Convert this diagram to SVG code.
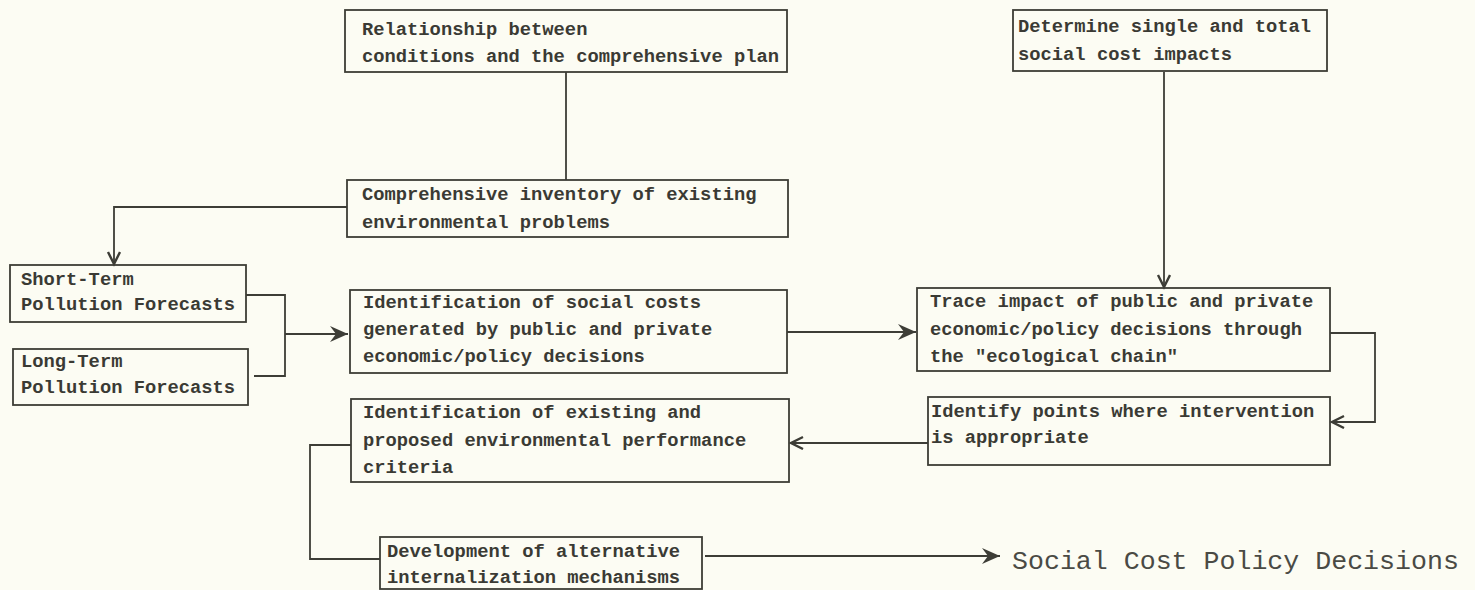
<svg xmlns="http://www.w3.org/2000/svg" width="1475" height="590" viewBox="0 0 1475 590">
<style>
  .box { fill: none; stroke: #3d3d36; stroke-width: 1.8; }
  .t { font-family: "Liberation Mono", "DejaVu Sans Mono", monospace; font-size: 18.8px; font-weight: bold; fill: #3a3a34; }
  .c { fill: none; stroke: #3d3d36; stroke-width: 1.8; }
  .big { font-family: "Liberation Mono", "DejaVu Sans Mono", monospace; font-size: 26.6px; fill: #4a4a44; }
</style>
<defs>
  <marker id="barb" markerUnits="userSpaceOnUse" markerWidth="20" markerHeight="18" refX="18" refY="8" orient="auto">
    <path d="M0,0 L18,8 L0,16 L6,8 z" fill="#3d3d36"/>
  </marker>
  <marker id="vee" markerUnits="userSpaceOnUse" markerWidth="16" markerHeight="16" refX="13" refY="7" orient="auto">
    <path d="M1,1 L13,7 L1,13" fill="none" stroke="#3d3d36" stroke-width="2.4"/>
  </marker>
</defs>
<rect x="0" y="0" width="1475" height="590" fill="#fcfcf3"/>

<g id="connectors">
  <path class="c" d="M566,72 V180"/>
  <path class="c" d="M347,207 H114 V264" marker-end="url(#vee)"/>
  <path class="c" d="M246,295 H285 V376 H254"/>
  <path class="c" d="M285,334 H348" marker-end="url(#barb)"/>
  <path class="c" d="M787,332 H916" marker-end="url(#barb)"/>
  <path class="c" d="M1164,72 V287" marker-end="url(#vee)"/>
  <path class="c" d="M1330,333 H1375 V422 H1332" marker-end="url(#vee)"/>
  <path class="c" d="M928,443 H791" marker-end="url(#vee)"/>
  <path class="c" d="M351,445 H310 V559 H380"/>
  <path class="c" d="M705,556 H1000" marker-end="url(#barb)"/>
</g>

<g id="n1">
  <rect class="box" x="345" y="10" width="442" height="62"/>
  <text class="t" x="362" y="35">Relationship between</text>
  <text class="t" x="362" y="62">conditions and the comprehensive plan</text>
</g>
<g id="n2">
  <rect class="box" x="1013" y="10" width="314" height="61"/>
  <text class="t" x="1018" y="32">Determine single and total</text>
  <text class="t" x="1018" y="60">social cost impacts</text>
</g>
<g id="n3">
  <rect class="box" x="347" y="180" width="441" height="57"/>
  <text class="t" x="362" y="200">Comprehensive inventory of existing</text>
  <text class="t" x="362" y="228">environmental problems</text>
</g>
<g id="n4">
  <rect class="box" x="10" y="265" width="236" height="57"/>
  <text class="t" x="21" y="285">Short-Term</text>
  <text class="t" x="21" y="310">Pollution Forecasts</text>
</g>
<g id="n5">
  <rect class="box" x="13" y="349" width="235" height="56"/>
  <text class="t" x="21" y="367">Long-Term</text>
  <text class="t" x="21" y="393">Pollution Forecasts</text>
</g>
<g id="n6">
  <rect class="box" x="350" y="290" width="437" height="83"/>
  <text class="t" x="363" y="308">Identification of social costs</text>
  <text class="t" x="363" y="335">generated by public and private</text>
  <text class="t" x="363" y="362">economic/policy decisions</text>
</g>
<g id="n7">
  <rect class="box" x="917" y="288" width="413" height="83"/>
  <text class="t" x="930" y="307">Trace impact of public and private</text>
  <text class="t" x="930" y="335">economic/policy decisions through</text>
  <text class="t" x="930" y="362">the "ecological chain"</text>
</g>
<g id="n8">
  <rect class="box" x="928" y="397" width="402" height="68"/>
  <text class="t" x="931" y="417">Identify points where intervention</text>
  <text class="t" x="931" y="443">is appropriate</text>
</g>
<g id="n9">
  <rect class="box" x="351" y="399" width="438" height="83"/>
  <text class="t" x="363" y="418">Identification of existing and</text>
  <text class="t" x="363" y="446">proposed environmental performance</text>
  <text class="t" x="363" y="473">criteria</text>
</g>
<g id="n10">
  <rect class="box" x="380" y="537" width="322" height="52"/>
  <text class="t" x="387" y="557">Development of alternative</text>
  <text class="t" x="387" y="583">internalization mechanisms</text>
</g>
<g id="n11">
  <text class="big" x="1012" y="569">Social Cost Policy Decisions</text>
</g>
</svg>
